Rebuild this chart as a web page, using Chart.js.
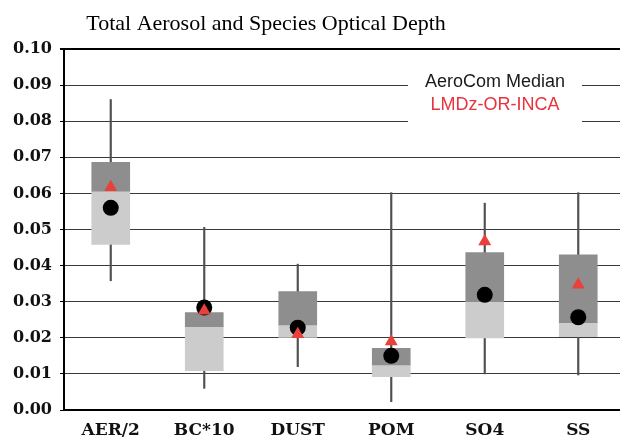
<!DOCTYPE html>
<html><head><meta charset="utf-8">
<script src="https://cdn.jsdelivr.net/npm/chart.js@4"></script>
<style>
html,body{margin:0;padding:0;background:#fff;overflow:hidden}
#wrap{width:620px;height:440px;overflow:hidden;position:relative;background:#fff}
canvas{display:block}
</style></head>
<body><div id="wrap"><canvas id="c" width="633" height="440"></canvas></div>
<script>
const chartTitle = 'Total Aerosol and Species Optical Depth';
const categories = ['AER/2', 'BC*10', 'DUST', 'POM', 'SO4', 'SS'];
const whiskerLow   = [0.0358, 0.0060, 0.0120, 0.0023, 0.0100, 0.0097];
const whiskerHigh  = [0.0860, 0.0506, 0.0404, 0.0602, 0.0573, 0.0602];
const quartileLow  = [0.0459, 0.0109, 0.0201, 0.0092, 0.0200, 0.0203];
const boxMedian    = [0.0606, 0.0231, 0.0236, 0.0125, 0.0300, 0.0242];
const quartileHigh = [0.0686, 0.0270, 0.0328, 0.0171, 0.0436, 0.0430];
const aerocomMedian = [0.0560, 0.0284, 0.0228, 0.0150, 0.0319, 0.0257];
const lmdzValues    = [0.0617, 0.0275, 0.0210, 0.0190, 0.0467, 0.0347];
const legendLabels = ['AeroCom Median', 'LMDz-OR-INCA'];
const yMin = 0, yMax = 0.10, yStep = 0.01;

const pair = (a, b) => a.map((v, i) => [v, b[i]]);

const overlayPlugin = {
  id: 'overlay',
  afterDatasetsDraw(chart) {
    const ctx = chart.ctx;
    ctx.save();
    // legend box
    ctx.fillStyle = '#ffffff';
    ctx.fillRect(408, 70, 174, 58);
    ctx.textAlign = 'center';
    ctx.textBaseline = 'middle';
    ctx.font = '18px "Liberation Sans"';
    ctx.fillStyle = '#1a1a1a';
    ctx.fillText(legendLabels[0], 495, 82);
    ctx.fillStyle = '#e8333f';
    ctx.fillText(legendLabels[1], 495, 105);
    // title
    ctx.font = '22px "Liberation Serif"';
    ctx.fillStyle = '#000';
    ctx.textBaseline = 'alphabetic';
    ctx.fillText(chartTitle, 266, 30);
    ctx.restore();
  }
};

new Chart(document.getElementById('c'), {
  type: 'bar',
  data: {
    labels: categories,
    datasets: [
      { type: 'line', data: lmdzValues, showLine: false, pointStyle: 'triangle',
        pointRadius: 7.5, pointBackgroundColor: '#e8403a', pointBorderWidth: 0, order: 0 },
      { type: 'line', data: aerocomMedian, showLine: false, pointStyle: 'circle',
        pointRadius: 8, pointBackgroundColor: '#000', pointBorderWidth: 0, order: 1 },
      { data: pair(boxMedian, quartileHigh), backgroundColor: '#8e8e8e', barThickness: 38,
        grouped: false, borderWidth: 0, order: 2 },
      { data: pair(quartileLow, boxMedian), backgroundColor: '#cccccc', barThickness: 38,
        grouped: false, borderWidth: 0, order: 3 },
      { data: pair(whiskerLow, whiskerHigh), backgroundColor: '#505050', barThickness: 1.5,
        grouped: false, borderWidth: 0, order: 4 }
    ]
  },
  options: {
    responsive: false,
    animation: false,
    devicePixelRatio: 1,
    layout: { padding: { top: 49, right: 0, left: 0, bottom: 0 } },
    plugins: { legend: { display: false }, tooltip: { enabled: false }, title: { display: false } },
    scales: {
      x: {
        afterFit(s) { s.height = 30; },
        grid: { display: false, drawTicks: false },
        border: { display: true, color: '#000', width: 2 },
        ticks: { color: '#111', padding: 10, font: { family: 'DejaVu Serif', weight: 'bold', size: 17 } }
      },
      y: {
        min: yMin, max: yMax,
        afterFit(s) { s.width = 64; },
        border: { display: true, color: '#000', width: 2 },
        grid: {
          color: c => (c.tick && Math.abs(c.tick.value - yMax) < 1e-9) ? '#000' : '#3a3a3a',
          lineWidth: c => (c.tick && Math.abs(c.tick.value - yMax) < 1e-9) ? 2 : 1,
          tickLength: 4, tickColor: '#000'
        },
        ticks: {
          stepSize: yStep, padding: 8, color: '#111',
          font: { family: 'DejaVu Serif', weight: 'bold', size: 16 },
          callback: v => v.toFixed(2)
        }
      }
    }
  },
  plugins: [overlayPlugin]
});
</script>
</body></html>
